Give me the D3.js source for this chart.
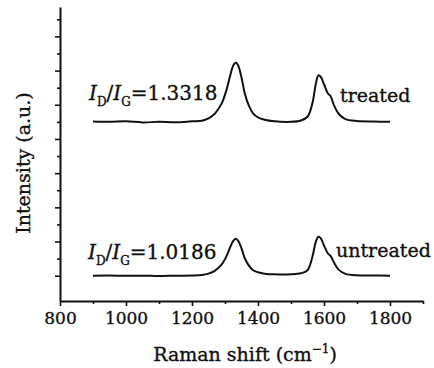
<!DOCTYPE html>
<html>
<head>
<meta charset="utf-8">
<script src="https://cdn.jsdelivr.net/npm/d3@7"></script>
<style>
  html, body { margin: 0; padding: 0; background: #fff; }
  svg { display: block; }
  text { font-family: "DejaVu Serif", serif; fill: #111; stroke: #111; stroke-width: 0.35px; }
</style>
</head>
<body>
<svg id="chart" width="434" height="368"></svg>
<script>
// ---- data ----
const ramanShift = [900, 950, 1000, 1050, 1100, 1150, 1200, 1230, 1250, 1270, 1290, 1305, 1315, 1325, 1333, 1340, 1350, 1360, 1372, 1385, 1400, 1420, 1450, 1500, 1530, 1550, 1565, 1575, 1583, 1590, 1600, 1612, 1620, 1630, 1645, 1665, 1700, 1750, 1800];
const treated = [5510, 5500, 5515, 5485, 5500, 5490, 5515, 5530, 5600, 5750, 6040, 6450, 6830, 7150, 7240, 7150, 6800, 6330, 5980, 5750, 5630, 5560, 5515, 5500, 5540, 5650, 6050, 6600, 6860, 6820, 6600, 6330, 6250, 5990, 5730, 5580, 5525, 5510, 5500];
const untreated = [1000, 1005, 995, 1000, 990, 1000, 1005, 1020, 1060, 1150, 1330, 1580, 1820, 2020, 2080, 2020, 1800, 1510, 1300, 1160, 1100, 1060, 1040, 1040, 1070, 1160, 1560, 1990, 2140, 2100, 1880, 1650, 1580, 1390, 1170, 1055, 1010, 1005, 1000];
const xMajorTicks = [800, 1000, 1200, 1400, 1600, 1800];
const xMinorTicks = [900, 1100, 1300, 1500, 1700, 1900];
const yMajorTicks = [1000, 2000, 3000, 4000, 5000, 6000, 7000, 8000];
const yMinorTicks = [1500, 2500, 3500, 4500, 5500, 6500, 7500, 8500];
const seriesNames = ["treated", "untreated"];
const ratios = ["1.3318", "1.0186"];

// ---- layout ----
const svg = d3.select("#chart");
const x = d3.scaleLinear().domain([800, 1900]).range([60, 423]);
const y = d3.scaleLinear().domain([260, 8860]).range([301, 7]);

// axes
const gx = svg.append("g").attr("transform", "translate(0,301)");
gx.call(d3.axisBottom(x).tickValues(xMinorTicks).tickSize(3).tickFormat("").tickSizeOuter(0));
gx.call(g => g.select(".domain").remove());
const gx2 = svg.append("g").attr("transform", "translate(0,301)");
gx2.call(d3.axisBottom(x).tickValues(xMajorTicks).tickSize(5).tickSizeOuter(0).tickPadding(5).tickFormat(d3.format("d")));
gx2.selectAll("text").attr("font-size", 17).attr("font-family", "DejaVu Serif").attr("fill", "#111").attr("dy", "0.75em");

const gy = svg.append("g").attr("transform", "translate(60,0)");
gy.call(d3.axisLeft(y).tickValues(yMinorTicks).tickSize(3).tickFormat("").tickSizeOuter(0));
gy.call(g => g.select(".domain").remove());
const gy2 = svg.append("g").attr("transform", "translate(60,0)");
gy2.call(d3.axisLeft(y).tickValues(yMajorTicks).tickSize(5).tickFormat("").tickSizeOuter(0));

svg.selectAll(".domain").attr("stroke", "#111").attr("stroke-width", 2);
svg.selectAll(".tick line").attr("stroke", "#111").attr("stroke-width", 1.6);

// spectra
const line = d3.line().curve(d3.curveCatmullRom.alpha(0.5));
[treated, untreated].forEach(vals => {
  svg.append("path")
    .datum(ramanShift.map((r, i) => [x(r), y(vals[i])]))
    .attr("d", line)
    .attr("fill", "none")
    .attr("stroke", "#111")
    .attr("stroke-width", 2);
});

// series labels
const labelPos = [[340, 102], [336, 257]];
seriesNames.forEach((n, i) => {
  svg.append("text").attr("x", labelPos[i][0]).attr("y", labelPos[i][1])
    .attr("font-size", 19).text(n);
});

// ID/IG annotations
const annPos = [[89, 100], [88, 259]];
ratios.forEach((r, i) => {
  const t = svg.append("text").attr("x", annPos[i][0]).attr("y", annPos[i][1]).attr("font-size", 20);
  t.append("tspan").attr("font-style", "italic").text("I");
  t.append("tspan").attr("font-size", 12).attr("dy", 6).text("D");
  t.append("tspan").attr("dy", -6).text("/");
  t.append("tspan").attr("font-style", "italic").text("I");
  t.append("tspan").attr("font-size", 12).attr("dy", 6).text("G");
  t.append("tspan").attr("dy", -6).text("=" + r);
});

// axis titles
const xt = svg.append("text").attr("x", 245).attr("y", 361).attr("text-anchor", "middle").attr("font-size", 19);
xt.append("tspan").text("Raman shift (cm");
xt.append("tspan").attr("font-size", 12).attr("dy", -8).text("−1");
xt.append("tspan").attr("dy", 8).text(")");

svg.append("text").attr("transform", "translate(30,163) rotate(-90)")
  .attr("text-anchor", "middle").attr("font-size", 19).text("Intensity (a.u.)");
</script>
</body>
</html>
